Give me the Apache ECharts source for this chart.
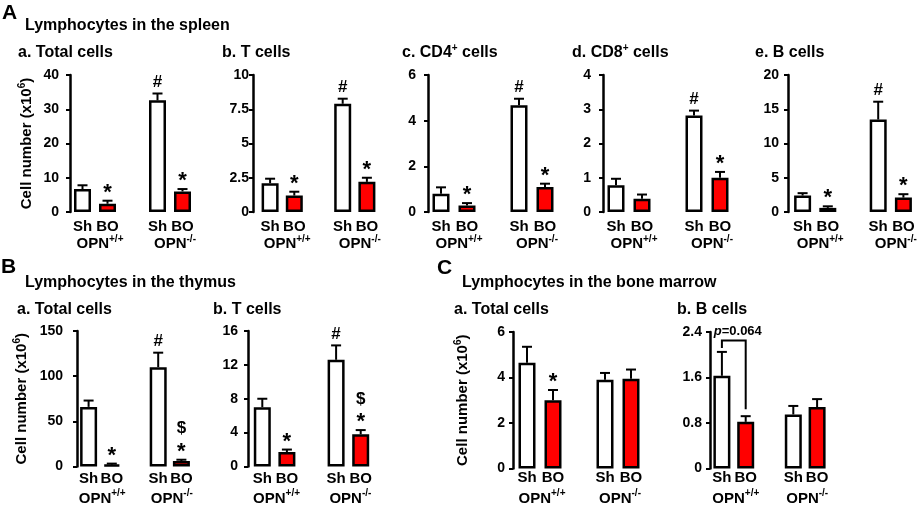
<!DOCTYPE html>
<html>
<head>
<meta charset="utf-8">
<script src="https://cdn.jsdelivr.net/npm/echarts@6/dist/echarts.min.js"></script>
<style>
  html, body { margin: 0; padding: 0; background: #fff; }
  #chart { width: 920px; height: 506px; }
</style>
</head>
<body>
<div id="chart"></div>
<script>
// x slots: Sh, BO, (gap), Sh, BO
const groups = ["Sh", "BO", "", "Sh", "BO"];
const slots = [0, 1, 3, 4];
const genotypes = [["OPN", "+/+"], ["OPN", "-/-"]];

// A. spleen
const spleenTotal = [6.7, 2.4, 32.6, 6.0];
const spleenTotalErr = [1.1, 0.9, 2.0, 0.7];
const spleenTotalTicks = [0, 10, 20, 30, 40];
const spleenT = [2.1, 1.2, 7.9, 2.2];
const spleenTErr = [0.33, 0.28, 0.37, 0.3];
const spleenTTicks = [0, 2.5, 5, 7.5, 10];
const spleenCD4 = [0.8, 0.29, 4.68, 1.1];
const spleenCD4Err = [0.28, 0.1, 0.28, 0.14];
const spleenCD4Ticks = [0, 2, 4, 6];
const spleenCD8 = [0.78, 0.39, 2.82, 1.0];
const spleenCD8Err = [0.19, 0.12, 0.14, 0.17];
const spleenCD8Ticks = [0, 1, 2, 3, 4];
const spleenB = [2.4, 0.6, 13.5, 2.1];
const spleenBErr = [0.35, 0.23, 2.6, 0.5];
const spleenBTicks = [0, 5, 10, 15, 20];

// B. thymus
const thymusTotal = [66, 2, 110, 6];
const thymusTotalErr = [7, 1.2, 16, 1.5];
const thymusTotalTicks = [0, 50, 100, 150];
const thymusT = [7.0, 1.7, 12.6, 3.8];
const thymusTErr = [1.0, 0.3, 1.7, 0.5];
const thymusTTicks = [0, 4, 8, 12, 16];

// C. bone marrow
const marrowTotal = [4.65, 3.0, 3.9, 3.95];
const marrowTotalErr = [0.7, 0.45, 0.3, 0.4];
const marrowTotalTicks = [0, 2, 4, 6];
const marrowB = [1.63, 0.82, 0.95, 1.08];
const marrowBErr = [0.42, 0.1, 0.15, 0.14];
const marrowBTicks = [0, 0.8, 1.6, 2.4];

// significance marks (# vs OPN+/+ Sh, * vs Sh, $ vs OPN+/+ BO)
const spleenMarks = ["", "*", "#", "*"];
const cd8Marks = ["", "", "#", "*"];
const thymusMarks = ["", "*", "#", "$\n*"];
const marrowTotalMarks = ["", "*", "", ""];
const marrowBMarks = ["", "", "", ""];

const pLabel = "0.064";
const pBracket = [2.25, 2.12, 1.04]; // bracket level, Sh leg end, BO leg end

const FONT = "Arial, 'Liberation Sans', sans-serif";
const RED = "#ff0000";

const rows = [
  { top: 75, height: 137, labelGap: 7, genoGap: 22, genoShift: 10 },
  { top: 331, height: 137, labelGap: 5, genoGap: 22, genoShift: 4 },
  { top: 332, height: 138, labelGap: 2, genoGap: 20, genoShift: 4 },
];

const panels = [
  { title: "{m|a. Total cells}", tx: 18, means: spleenTotal, errs: spleenTotalErr, marks: spleenMarks, ticks: spleenTotalTicks, row: 0, left: 70, width: 125, gap: 0, margin: 11, nameGap: 33 },
  { title: "{m|b. T cells}", tx: 222, means: spleenT, errs: spleenTErr, marks: spleenMarks, ticks: spleenTTicks, row: 0, left: 258, width: 121, gap: 5, margin: 4 },
  { title: "{m|c. CD4}{s|+}{m| cells}", tx: 402, means: spleenCD4, errs: spleenCD4Err, marks: spleenMarks, ticks: spleenCD4Ticks, row: 0, left: 428, width: 130, gap: 0, margin: 12 },
  { title: "{m|d. CD8}{s|+}{m| cells}", tx: 572, means: spleenCD8, errs: spleenCD8Err, marks: cd8Marks, ticks: spleenCD8Ticks, row: 0, left: 603, width: 130, gap: 0, margin: 12 },
  { title: "{m|e. B cells}", tx: 755, means: spleenB, errs: spleenBErr, marks: spleenMarks, ticks: spleenBTicks, row: 0, left: 790, width: 126, gap: 2, margin: 9 },
  { title: "{m|a. Total cells}", tx: 17, means: thymusTotal, errs: thymusTotalErr, marks: thymusMarks, ticks: thymusTotalTicks, row: 1, left: 77, width: 116, gap: 0, margin: 14, nameGap: 45 },
  { title: "{m|b. T cells}", tx: 213, means: thymusT, errs: thymusTErr, marks: thymusMarks, ticks: thymusTTicks, row: 1, left: 250, width: 123, gap: 2, margin: 10 },
  { title: "{m|a. Total cells}", tx: 454, means: marrowTotal, errs: marrowTotalErr, marks: marrowTotalMarks, ticks: marrowTotalTicks, row: 2, left: 514, width: 130, gap: 1, margin: 8, nameGap: 40 },
  { title: "{m|b. B cells}", tx: 677, means: marrowB, errs: marrowBErr, marks: marrowBMarks, ticks: marrowBTicks, row: 2, left: 710, width: 119, gap: 0, margin: 8, bracket: true },
];

const supRich = {
  m: { fontFamily: FONT, fontWeight: "bold", fontSize: 16, color: "#000", lineHeight: 20 },
  s: { fontFamily: FONT, fontWeight: "bold", fontSize: 10, color: "#000", lineHeight: 12, verticalAlign: "top" },
};

function headers() {
  const list = [
    { text: "A", left: 2, top: 1, big: true },
    { text: "{m|Lymphocytes in the spleen}", left: 25, top: 16 },
    { text: "B", left: 1, top: 255, big: true },
    { text: "{m|Lymphocytes in the thymus}", left: 25, top: 273 },
    { text: "C", left: 437, top: 256, big: true },
    { text: "{m|Lymphocytes in the bone marrow}", left: 462, top: 273 },
  ];
  panels.forEach((p) => {
    list.push({ text: p.title, left: p.tx, top: p.row === 0 ? 43 : 300 });
  });
  return list.map((t) => ({
    text: t.text,
    left: t.left,
    top: t.top,
    padding: 0,
    textStyle: t.big
      ? { fontFamily: FONT, fontWeight: "bold", fontSize: 21, color: "#000", lineHeight: 24 }
      : { rich: supRich },
  }));
}

function errorRender(p) {
  return (params, api) => {
    const i = params.dataIndex;
    const base = api.coord([api.value(0), api.value(1)]);
    const tip = api.coord([api.value(0), api.value(2)]);
    const stroke = { stroke: "#000", lineWidth: 2 };
    const children = [
      { type: "line", shape: { x1: base[0], y1: base[1], x2: tip[0], y2: tip[1] }, style: stroke },
      { type: "line", shape: { x1: tip[0] - 5, y1: tip[1], x2: tip[0] + 5, y2: tip[1] }, style: stroke },
    ];
    const marks = p.marks[i] ? p.marks[i].split("\n").reverse() : [];
    marks.forEach((t, k) => {
      const star = t === "*";
      children.push({
        type: "text",
        x: tip[0],
        y: tip[1] - (star ? 8 : 11) - k * 20,
        style: {
          text: t,
          fill: "#000",
          font: "bold " + (star ? 22 : 17) + "px " + FONT,
          textAlign: "center",
          textVerticalAlign: "middle",
          align: "center",
          verticalAlign: "middle",
        },
      });
    });
    return { type: "group", children };
  };
}

function bracketRender(p) {
  return (params, api) => {
    const level = api.coord([0, pBracket[0]])[1];
    const left = api.coord([0, pBracket[1]]);
    const right = api.coord([1, pBracket[2]]);
    const stroke = { stroke: "#000", lineWidth: 2, fill: null };
    return {
      type: "group",
      children: [
        {
          type: "polyline",
          shape: { points: [[left[0], left[1]], [left[0], level], [right[0], level], [right[0], right[1]]] },
          style: stroke,
        },
        {
          type: "text",
          x: (left[0] + right[0]) / 2 + 4,
          y: level - 9,
          style: {
            text: "{i|p}{n|=" + pLabel + "}",
            rich: {
              i: { fontFamily: FONT, fontWeight: "bold", fontStyle: "italic", fontSize: 13, fill: "#000" },
              n: { fontFamily: FONT, fontWeight: "bold", fontSize: 13, fill: "#000" },
            },
            textAlign: "center",
            textVerticalAlign: "middle",
            align: "center",
            verticalAlign: "middle",
          },
        },
      ],
    };
  };
}

const grid = [], xAxis = [], yAxis = [], series = [];
panels.forEach((p, g) => {
  const r = rows[p.row];
  grid.push({ left: p.left, top: r.top, width: p.width, height: r.height });
  xAxis.push({
    type: "category",
    gridIndex: g,
    data: groups,
    axisLine: { show: false },
    axisTick: { show: false },
    axisLabel: { interval: 0, margin: r.labelGap, color: "#000", fontFamily: FONT, fontWeight: "bold", fontSize: 15 },
  });
  xAxis.push({
    type: "value",
    gridIndex: g,
    min: -0.5,
    max: 4.5,
    position: "bottom",
    axisLine: { show: false, onZero: false },
    axisTick: { show: false },
    splitLine: { show: false },
    axisLabel: {
      customValues: [0.5, 3.5],
      margin: r.genoGap,
      padding: [0, 0, 0, r.genoShift],
      formatter: (v) => {
        const gt = genotypes[v < 2 ? 0 : 1];
        return "{b|" + gt[0] + "}{s|" + gt[1] + "}";
      },
      rich: {
        b: { fontFamily: FONT, fontWeight: "bold", fontSize: 15, color: "#000", lineHeight: 20 },
        s: { fontFamily: FONT, fontWeight: "bold", fontSize: 10, color: "#000", lineHeight: 12, verticalAlign: "top" },
      },
    },
  });
  const y = {
    type: "value",
    gridIndex: g,
    min: 0,
    max: p.ticks[p.ticks.length - 1],
    interval: p.ticks[1],
    offset: p.gap,
    axisLine: { show: true, onZero: false, lineStyle: { color: "#000", width: 2.5 } },
    axisTick: { show: true, length: 4, lineStyle: { color: "#000", width: 2 } },
    splitLine: { show: false },
    axisLabel: { margin: p.margin, color: "#000", fontFamily: FONT, fontWeight: "bold", fontSize: 14 },
  };
  if (p.nameGap) {
    y.name = "{a|Cell number (x10}{s|6}{a|)}";
    y.nameLocation = "middle";
    y.nameRotate = 90;
    y.nameGap = p.nameGap;
    y.nameTextStyle = {
      rich: {
        a: { fontFamily: FONT, fontWeight: "bold", fontSize: 15, color: "#000", lineHeight: 20 },
        s: { fontFamily: FONT, fontWeight: "bold", fontSize: 10, color: "#000", lineHeight: 12, verticalAlign: "top" },
      },
    };
  }
  yAxis.push(y);
  series.push({
    type: "bar",
    xAxisIndex: 2 * g,
    yAxisIndex: g,
    barWidth: 17,
    silent: true,
    itemStyle: { borderColor: "#000", borderWidth: 2.5 },
    data: p.means.map((m, i) => ({
      value: [slots[i], m],
      itemStyle: { color: i % 2 ? RED : "#fff" },
    })),
  });
  series.push({
    type: "custom",
    xAxisIndex: 2 * g,
    yAxisIndex: g,
    z: 3,
    silent: true,
    data: p.means.map((m, i) => [slots[i], m, m + p.errs[i]]),
    renderItem: errorRender(p),
  });
  if (p.bracket) {
    series.push({
      type: "custom",
      xAxisIndex: 2 * g,
      yAxisIndex: g,
      z: 4,
      silent: true,
      data: [[0, pBracket[0]]],
      renderItem: bracketRender(p),
    });
  }
});

const chart = echarts.init(document.getElementById("chart"));
chart.setOption({
  animation: false,
  backgroundColor: "#fff",
  title: headers(),
  grid,
  xAxis,
  yAxis,
  series,
});
</script>
</body>
</html>
